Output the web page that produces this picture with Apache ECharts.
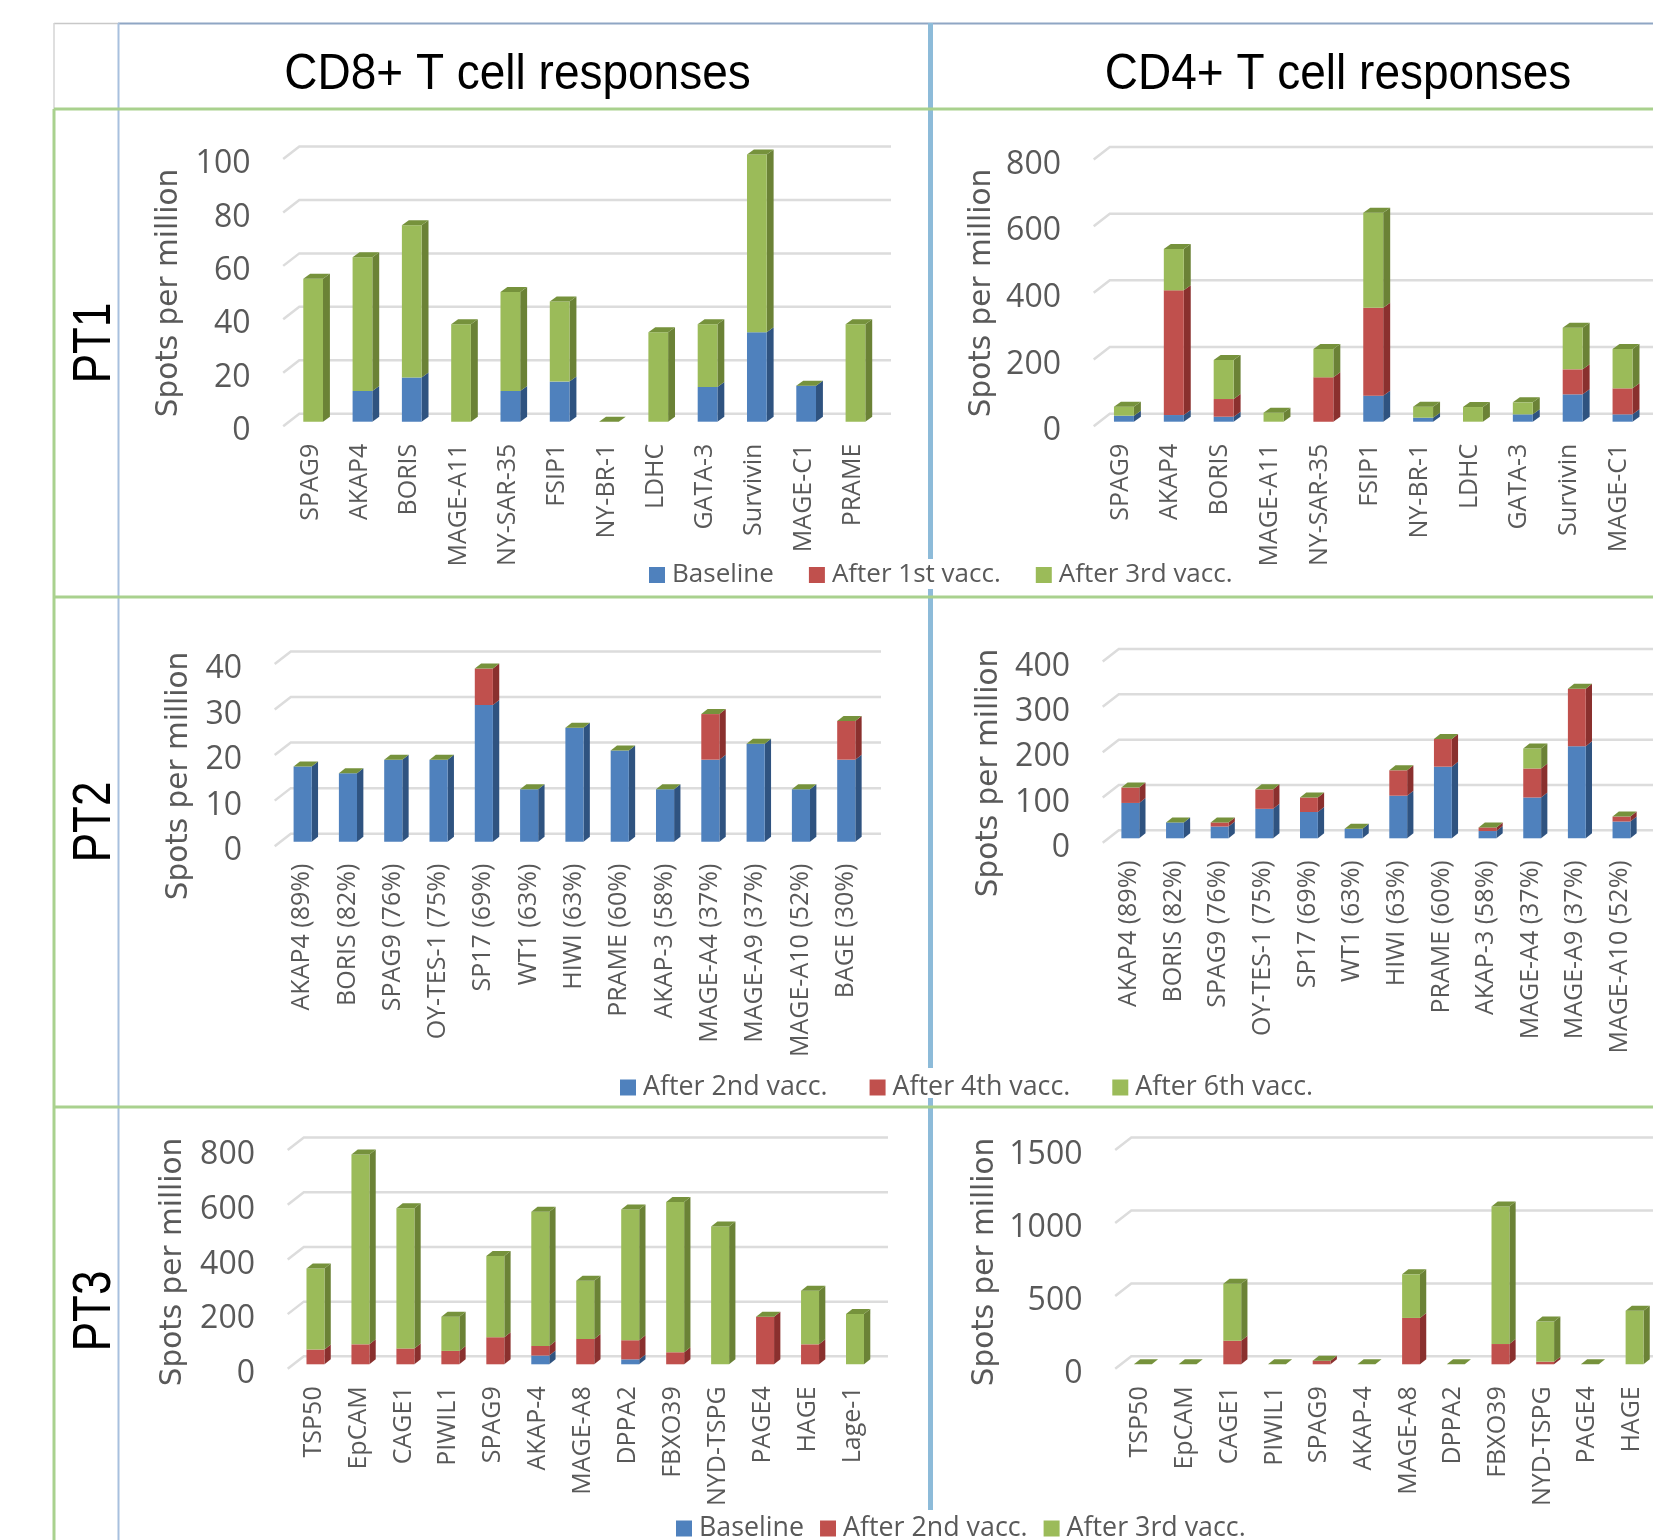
<!DOCTYPE html>
<html>
<head>
<meta charset="utf-8">
<title>T cell responses</title>
<script src="https://cdn.jsdelivr.net/npm/echarts@6/dist/echarts.min.js"></script>
<style>
  html, body { margin: 0; padding: 0; background: #fff; overflow: hidden; }
  #chart { width: 1653px; height: 1540px; }
</style>
</head>
<body>
<div id="chart"></div>
<script>
// categories
const pt1Cd8Genes = ['SPAG9', 'AKAP4', 'BORIS', 'MAGE-A11', 'NY-SAR-35', 'FSIP1', 'NY-BR-1', 'LDHC', 'GATA-3', 'Survivin', 'MAGE-C1', 'PRAME'];
const pt2Genes = ['AKAP4 (89%)', 'BORIS (82%)', 'SPAG9 (76%)', 'OY-TES-1 (75%)', 'SP17 (69%)', 'WT1 (63%)', 'HIWI (63%)', 'PRAME (60%)', 'AKAP-3 (58%)', 'MAGE-A4 (37%)', 'MAGE-A9 (37%)', 'MAGE-A10 (52%)', 'BAGE (30%)'];
const pt3Genes = ['TSP50', 'EpCAM', 'CAGE1', 'PIWIL1', 'SPAG9', 'AKAP-4', 'MAGE-A8', 'DPPA2', 'FBXO39', 'NYD-TSPG', 'PAGE4', 'HAGE', 'Lage-1'];

// stacked segment heights
const pt1Cd8Baseline = [0, 11.5, 16.5, 0, 11.5, 15, 0, 0, 13, 33.5, 13.5, 0];
const pt1Cd8First = [0, 0, 0, 0, 0, 0, 0, 0, 0, 0, 0, 0];
const pt1Cd8Third = [53.5, 50, 57, 36.5, 37, 30, 0, 33.5, 23.5, 66.5, 0, 36.5];

// last value sits outside the crop
const pt1Cd4Baseline = [18, 20, 15, 0, 0, 78, 12, 0, 22, 82, 22, 0];
const pt1Cd4First = [0, 374, 53, 0, 133, 264, 0, 0, 0, 75, 78, 0];
const pt1Cd4Third = [27, 124, 117, 27, 85, 285, 33, 44, 36, 125, 118, 0];

const pt2Cd8Second = [16.5, 15, 18, 18, 30, 11.5, 25, 20, 11.5, 18, 21.5, 11.5, 18];
const pt2Cd8Fourth = [0, 0, 0, 0, 8, 0, 0, 0, 0, 10, 0, 0, 8.5];
const pt2Cd8Sixth = [0, 0, 0, 0, 0, 0, 0, 0, 0, 0, 0, 0, 0];

const pt2Cd4Second = [78, 35, 26, 65, 58, 21, 94, 158, 16, 90, 203, 37, 0];
const pt2Cd4Fourth = [34, 0, 9, 43, 32, 0, 56, 61, 8, 64, 127, 11, 0];
const pt2Cd4Sixth = [0, 0, 0, 0, 0, 0, 0, 0, 0, 44, 0, 0, 0];

const pt3Cd8Baseline = [0, 0, 0, 0, 0, 32, 0, 18, 0, 0, 0, 0, 0];
const pt3Cd8Second = [54, 73, 58, 49, 99, 35, 93, 70, 44, 0, 174, 73, 0];
const pt3Cd8Third = [296, 694, 513, 125, 297, 491, 213, 478, 550, 504, 0, 196, 184];

const pt3Cd4Baseline = [0, 0, 0, 0, 0, 0, 0, 0, 0, 0, 0, 0, 0];
const pt3Cd4Second = [0, 0, 162, 0, 25, 0, 318, 0, 139, 18, 0, 0, 0];
const pt3Cd4Third = [0, 0, 391, 0, 0, 0, 299, 0, 943, 275, 0, 368, 0];

// tick labels
const ticksPt1Cd8 = [0, 20, 40, 60, 80, 100];
const ticksPt1Cd4 = [0, 200, 400, 600, 800];
const ticksPt2Cd8 = [0, 10, 20, 30, 40];
const ticksPt2Cd4 = [0, 100, 200, 300, 400];
const ticksPt3Cd8 = [0, 200, 400, 600, 800];
const ticksPt3Cd4 = [0, 500, 1000, 1500];

const legendPt1 = ['Baseline', 'After 1st vacc.', 'After 3rd vacc.'];
const legendPt2 = ['After 2nd vacc.', 'After 4th vacc.', 'After 6th vacc.'];
const legendPt3 = ['Baseline', 'After 2nd vacc.', 'After 3rd vacc.'];

const FRONT = ['#4f81bd', '#c0504d', '#9bbb59'];
const SIDE = ['#2f5380', '#8a302e', '#6b8236'];
const TOP = '#76923c';
const GRID_LINE = '#dcdcdc';
const TEXT = '#595959';
const GREEN_LINE = '#a9d18e';
const BLUE_LINE = '#a8c0de';
const MID_LINE = '#8dbbd9';

// floor = pixel y of value 0 on the bar front, top = pixel y of the axis max
// labelLine moves the gene labels left of the bar centre (half of it, in px)
const panels = [
  { genes: pt1Cd8Genes, stacks: [pt1Cd8Baseline, pt1Cd8First, pt1Cd8Third], names: legendPt1, ticks: ticksPt1Cd8, left: 288.5, step: 49.3, floor: 421.7, top: 154.5, right: 891, nameX: 169, nameY: 293, labelLine: 5 },
  { genes: pt1Cd8Genes, stacks: [pt1Cd4Baseline, pt1Cd4First, pt1Cd4Third], names: legendPt1, ticks: ticksPt1Cd4, left: 1099, step: 49.86, floor: 421.7, top: 155, right: 1700, nameX: 982, nameY: 293, labelLine: 7 },
  { genes: pt2Genes, stacks: [pt2Cd8Second, pt2Cd8Fourth, pt2Cd8Sixth], names: legendPt2, ticks: ticksPt2Cd8, left: 280, step: 45.3, floor: 841.7, top: 659.4, right: 881, nameX: 179, nameY: 776, labelLine: 1 },
  { genes: pt2Genes, stacks: [pt2Cd4Second, pt2Cd4Fourth, pt2Cd4Sixth], names: legendPt2, ticks: ticksPt2Cd4, left: 1108, step: 44.65, floor: 838.3, top: 657, right: 1700, nameX: 989, nameY: 773, labelLine: 3 },
  { genes: pt3Genes, stacks: [pt3Cd8Baseline, pt3Cd8Second, pt3Cd8Third], names: legendPt3, ticks: ticksPt3Cd8, left: 293, step: 44.96, floor: 1364.3, top: 1145.6, right: 888, nameX: 173, nameY: 1262, labelLine: 4 },
  { genes: pt3Genes, stacks: [pt3Cd4Baseline, pt3Cd4Second, pt3Cd4Third], names: legendPt3, ticks: ticksPt3Cd4, left: 1120.5, step: 44.7, floor: 1364.3, top: 1145.6, right: 1700, nameX: 985, nameY: 1262, labelLine: 5 },
];

const grids = [];
const xAxes = [];
const yAxes = [];
const series = [];

// 3D look of the original: front, side and top faces from the axis scales
function barRenderer(layer) {
  return function (params, api) {
    const cat = api.value(0);
    const start = api.coord([cat, api.value(1)]);
    const end = api.coord([cat, api.value(2)]);
    const step = api.size([1, 0])[0];
    const w = step * 0.4;
    const dx = step * 0.14;
    const dy = 5;
    const x = start[0] - w / 2;
    const children = [];
    if (api.value(2) > api.value(1)) {
      children.push({
        type: 'polygon',
        shape: { points: [[x + w, start[1]], [x + w + dx, start[1] - dy], [x + w + dx, end[1] - dy], [x + w, end[1]]] },
        style: { fill: SIDE[layer] },
      });
      children.push({
        type: 'rect',
        shape: { x: x, y: end[1], width: w, height: start[1] - end[1] },
        style: { fill: FRONT[layer] },
      });
    }
    if (layer === 2) {
      children.push({
        type: 'polygon',
        shape: { points: [[x, end[1]], [x + w, end[1]], [x + w + dx, end[1] - dy], [x + dx, end[1] - dy]] },
        style: { fill: TOP },
      });
    }
    return { type: 'group', children: children };
  };
}

// gridlines sit on the back wall, with a short slanted piece on the left
function wallRenderer(right) {
  return function (params, api) {
    const p = api.coord([0, api.value(1)]);
    const x0 = params.coordSys.x;
    return {
      type: 'polyline',
      shape: { points: [[x0 - 5.3, p[1] + 4.5], [x0 + 10.8, p[1] - 8], [right, p[1] - 8]] },
      style: { stroke: GRID_LINE, lineWidth: 2.5, fill: null },
    };
  };
}

panels.forEach(function (p, i) {
  const height = p.floor - p.top;
  const ticks = p.ticks;
  grids.push({ left: p.left, top: p.top, width: p.step * p.genes.length, height: height, outerBoundsMode: 'none' });
  xAxes.push({
    type: 'category',
    gridIndex: i,
    data: p.genes,
    axisLine: { show: false },
    axisTick: { show: false },
    axisLabel: {
      interval: 0,
      rotate: 90,
      margin: 22,
      color: TEXT,
      fontFamily: 'Open Sans',
      fontSize: 25,
      verticalAlign: 'bottom',
      lineHeight: p.labelLine,
    },
  });
  const midY = (p.floor + p.top) / 2;
  const shift = p.nameY - midY;
  yAxes.push({
    type: 'value',
    gridIndex: i,
    min: ticks[0],
    max: ticks[ticks.length - 1],
    interval: ticks[1] - ticks[0],
    axisLine: { show: false },
    axisTick: { show: false },
    splitLine: { show: false },
    axisLabel: {
      margin: 38,
      color: TEXT,
      fontFamily: 'Open Sans',
      fontSize: 32,
      verticalAlign: 'top',
      lineHeight: 19,
      formatter: function (v) { return String(v); },
    },
    name: 'Spots per million',
    nameLocation: 'middle',
    nameGap: p.left - p.nameX - 15,
    nameRotate: 90,
    nameTextStyle: {
      color: TEXT,
      fontFamily: 'DejaVu Sans',
      fontSize: 29.5,
      padding: [0, Math.max(0, 2 * shift), 0, 0],
    },
  });
  series.push({
    type: 'custom',
    xAxisIndex: i,
    yAxisIndex: i,
    silent: true,
    z: 1,
    renderItem: wallRenderer(p.right),
    encode: { x: 0, y: 1 },
    data: ticks.map(function (t) { return [0, t]; }),
  });
  const base = p.genes.map(function () { return 0; });
  p.stacks.forEach(function (values, layer) {
    const rows = values.map(function (v, c) {
      const row = [c, base[c], base[c] + v];
      base[c] += v;
      return row;
    });
    series.push({
      type: 'custom',
      name: p.names[layer],
      xAxisIndex: i,
      yAxisIndex: i,
      z: 2 + layer,
      itemStyle: { color: FRONT[layer] },
      renderItem: barRenderer(layer),
      encode: { x: 0, y: [1, 2] },
      data: rows,
    });
  });
});

function legendFor(names, left, top, gap, size) {
  return {
    left: left,
    top: top,
    padding: 0,
    itemGap: gap,
    itemWidth: 16,
    itemHeight: 16,
    icon: 'rect',
    selectedMode: false,
    textStyle: { color: TEXT, fontFamily: 'Open Sans', fontSize: size, padding: [0, 0, 0, 2] },
    data: names.map(function (n, k) {
      return { name: n, itemStyle: { color: FRONT[k] } };
    }),
  };
}

function hLine(x1, x2, y, color, w) {
  return { type: 'line', silent: true, shape: { x1: x1, y1: y, x2: x2, y2: y }, style: { stroke: color, lineWidth: w } };
}
function vLine(x, y1, y2, color, w) {
  return { type: 'line', silent: true, shape: { x1: x, y1: y1, x2: x, y2: y2 }, style: { stroke: color, lineWidth: w } };
}
function headerText(text, x, y) {
  return { type: 'text', silent: true, x: x, y: y, scaleY: 1.08, style: { text: text, font: '46px "Liberation Sans"', fill: '#000', align: 'center', verticalAlign: 'middle' } };
}
function rowText(text, x, y) {
  return { type: 'text', silent: true, x: x, y: y, rotation: Math.PI / 2, scaleY: 1.22, style: { text: text, font: '44px "Liberation Sans"', fill: '#000', align: 'center', verticalAlign: 'middle' } };
}

const tableLines = [
  hLine(54, 118, 23.5, '#c8c8c8', 1.5),
  hLine(118, 1653, 23.5, '#8fa6c4', 2),
  vLine(54, 23, 109, '#d4d4d4', 1.5),
  vLine(54, 109, 1540, GREEN_LINE, 3),
  vLine(118.5, 23, 1540, BLUE_LINE, 2),
  vLine(930.5, 23, 559, MID_LINE, 5),
  vLine(930.5, 589, 1068, MID_LINE, 5),
  vLine(930.5, 1098, 1510, MID_LINE, 5),
  hLine(54, 1653, 109, GREEN_LINE, 3),
  hLine(54, 1653, 597, GREEN_LINE, 3),
  hLine(54, 1653, 1107, GREEN_LINE, 3),
  headerText('CD8+ T cell responses', 517.5, 75),
  headerText('CD4+ T cell responses', 1338, 75),
  rowText('PT1', 95, 343),
  rowText('PT2', 95, 822),
  rowText('PT3', 95, 1311),
];

const chart = echarts.init(document.getElementById('chart'), null, { renderer: 'canvas' });
chart.setOption({
  animation: false,
  backgroundColor: '#fff',
  grid: grids,
  xAxis: xAxes,
  yAxis: yAxes,
  legend: [
    legendFor(legendPt1, 649, 562, 35, 26),
    legendFor(legendPt2, 620, 1074, 42, 26.8),
    legendFor(legendPt3, 676, 1515, 16, 26.8),
  ],
  graphic: tableLines,
  series: series,
});
</script>
</body>
</html>
